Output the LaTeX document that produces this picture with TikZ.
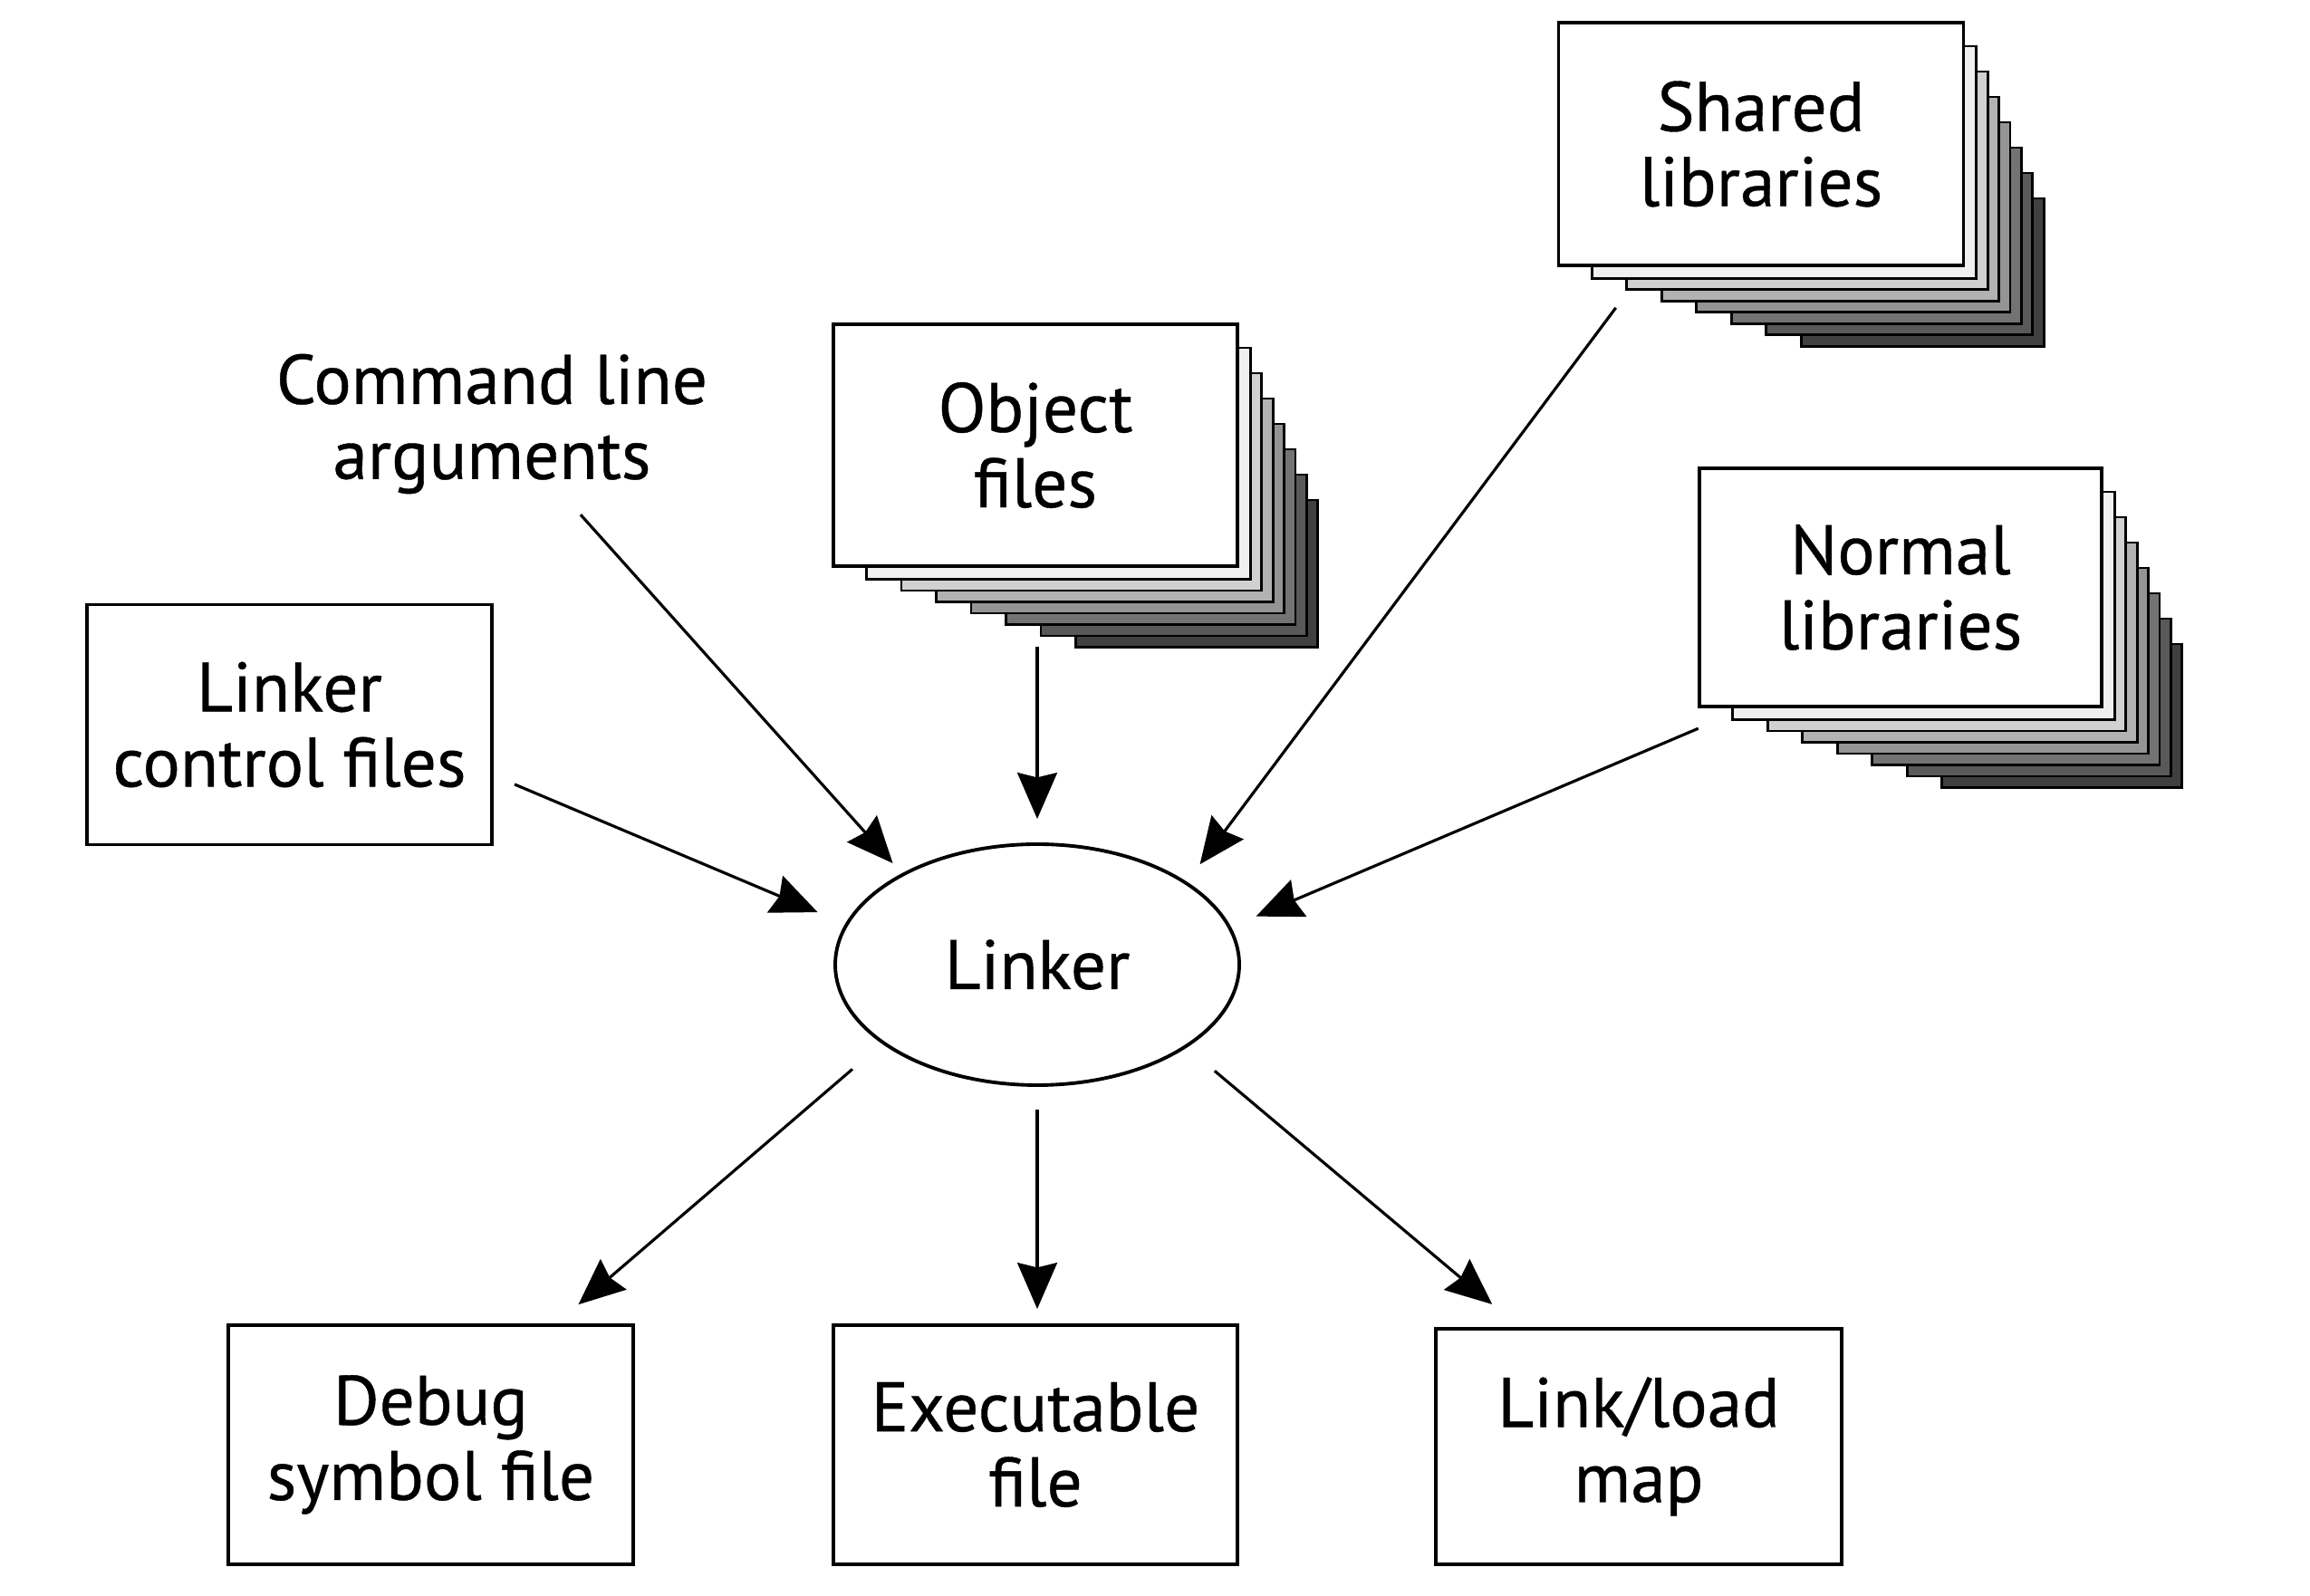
\documentclass[tikz,border=0pt]{standalone}
\usepackage{fontspec}
\setmainfont{PT Sans}[UprightFeatures={FakeBold=0.5}]
\usetikzlibrary{arrows.meta,shapes.geometric,backgrounds}
\begin{document}
\begin{tikzpicture}[
  every node/.style={font=\fontsize{22}{23.6}\selectfont, align=center, inner sep=0pt},
  filebox/.style={draw, line width=1.1pt, fill=white, rectangle},
  arr/.style={line width=0.9pt, -{Stealth[length=14.5pt,width=12.5pt,inset=1.5pt]}},
  layerbox/.style={draw, line width=0.8pt}
]
\useasboundingbox (0,0) rectangle (25.5,17.62);

% input boxes
\node[filebox, minimum width=4.47cm, minimum height=2.65cm] (lcf) at (3.195,9.62) {Linker\\control files};
\node[minimum width=4.84cm, minimum height=1.4cm] (cla) at (5.43,12.94) {Command line\\arguments};
\node[filebox, minimum width=4.46cm, minimum height=2.67cm] (obj) at (11.43,12.705) {Object\\files};
\node[filebox, minimum width=4.47cm, minimum height=2.68cm] (shl) at (19.44,16.03) {Shared\\libraries};
\node[filebox, minimum width=4.44cm, minimum height=2.63cm] (nrm) at (20.98,11.135) {Normal\\libraries};

% linker
\node[draw, ellipse, line width=1.1pt, minimum width=4.46cm, minimum height=2.66cm] (linker) at (11.45,6.97) {Linker};

% outputs
\node[filebox, minimum width=4.47cm, minimum height=2.64cm] (dbg) at (4.755,1.67) {Debug\\symbol file};
\node[filebox, minimum width=4.46cm, minimum height=2.64cm] (exe) at (11.43,1.67) {Executable\\file};
\node[filebox, minimum width=4.48cm, minimum height=2.60cm] (map) at (18.09,1.65) {Link/load\\map};

% stacked layers behind file stacks
\begin{scope}[on background layer]
  \fill[white] (0,0) rectangle (25.5,17.62);
  \foreach \n in {obj,shl,nrm}{
    \foreach \i/\c in {7/75,6/65,5/55,4/42,3/30,2/18,1/6}{
      \draw[layerbox, fill=black!\c]
        ([shift={(0.385*\i,-0.28*\i)}]\n.north west) rectangle
        ([shift={(0.124*\i,-0.125*\i)}]\n.south east);
    }
  }
\end{scope}

% connectors
\draw[arr, shorten <=0.25cm, shorten >=0.33cm] (lcf.-14.4) -- (linker.168.1);
\draw[arr, shorten <=0.30cm, shorten >=0.15cm] (cla.-45) -- (linker.146.7);
\draw[arr, shorten <=0.87cm, shorten >=0.26cm] (obj.south -| linker.north) -- (linker.north);
\draw[arr, shorten <=0.56cm, shorten >=0.24cm] (shl.227.9) -- (linker.29.2);
\draw[arr, shorten <=0.57cm, shorten >=0.30cm] (nrm.218.05) -- (linker.11.3);
\draw[arr, shorten <=0.43cm, shorten >=0.32cm] (linker.207) -- (dbg.44.6);
\draw[arr, shorten <=0.25cm, shorten >=0.16cm] (linker.south) -- (linker.south |- exe.north);
\draw[arr, shorten <=0.40cm, shorten >=0.39cm] (linker.-29.3) -- (map.135.5);
\end{tikzpicture}
\end{document}
